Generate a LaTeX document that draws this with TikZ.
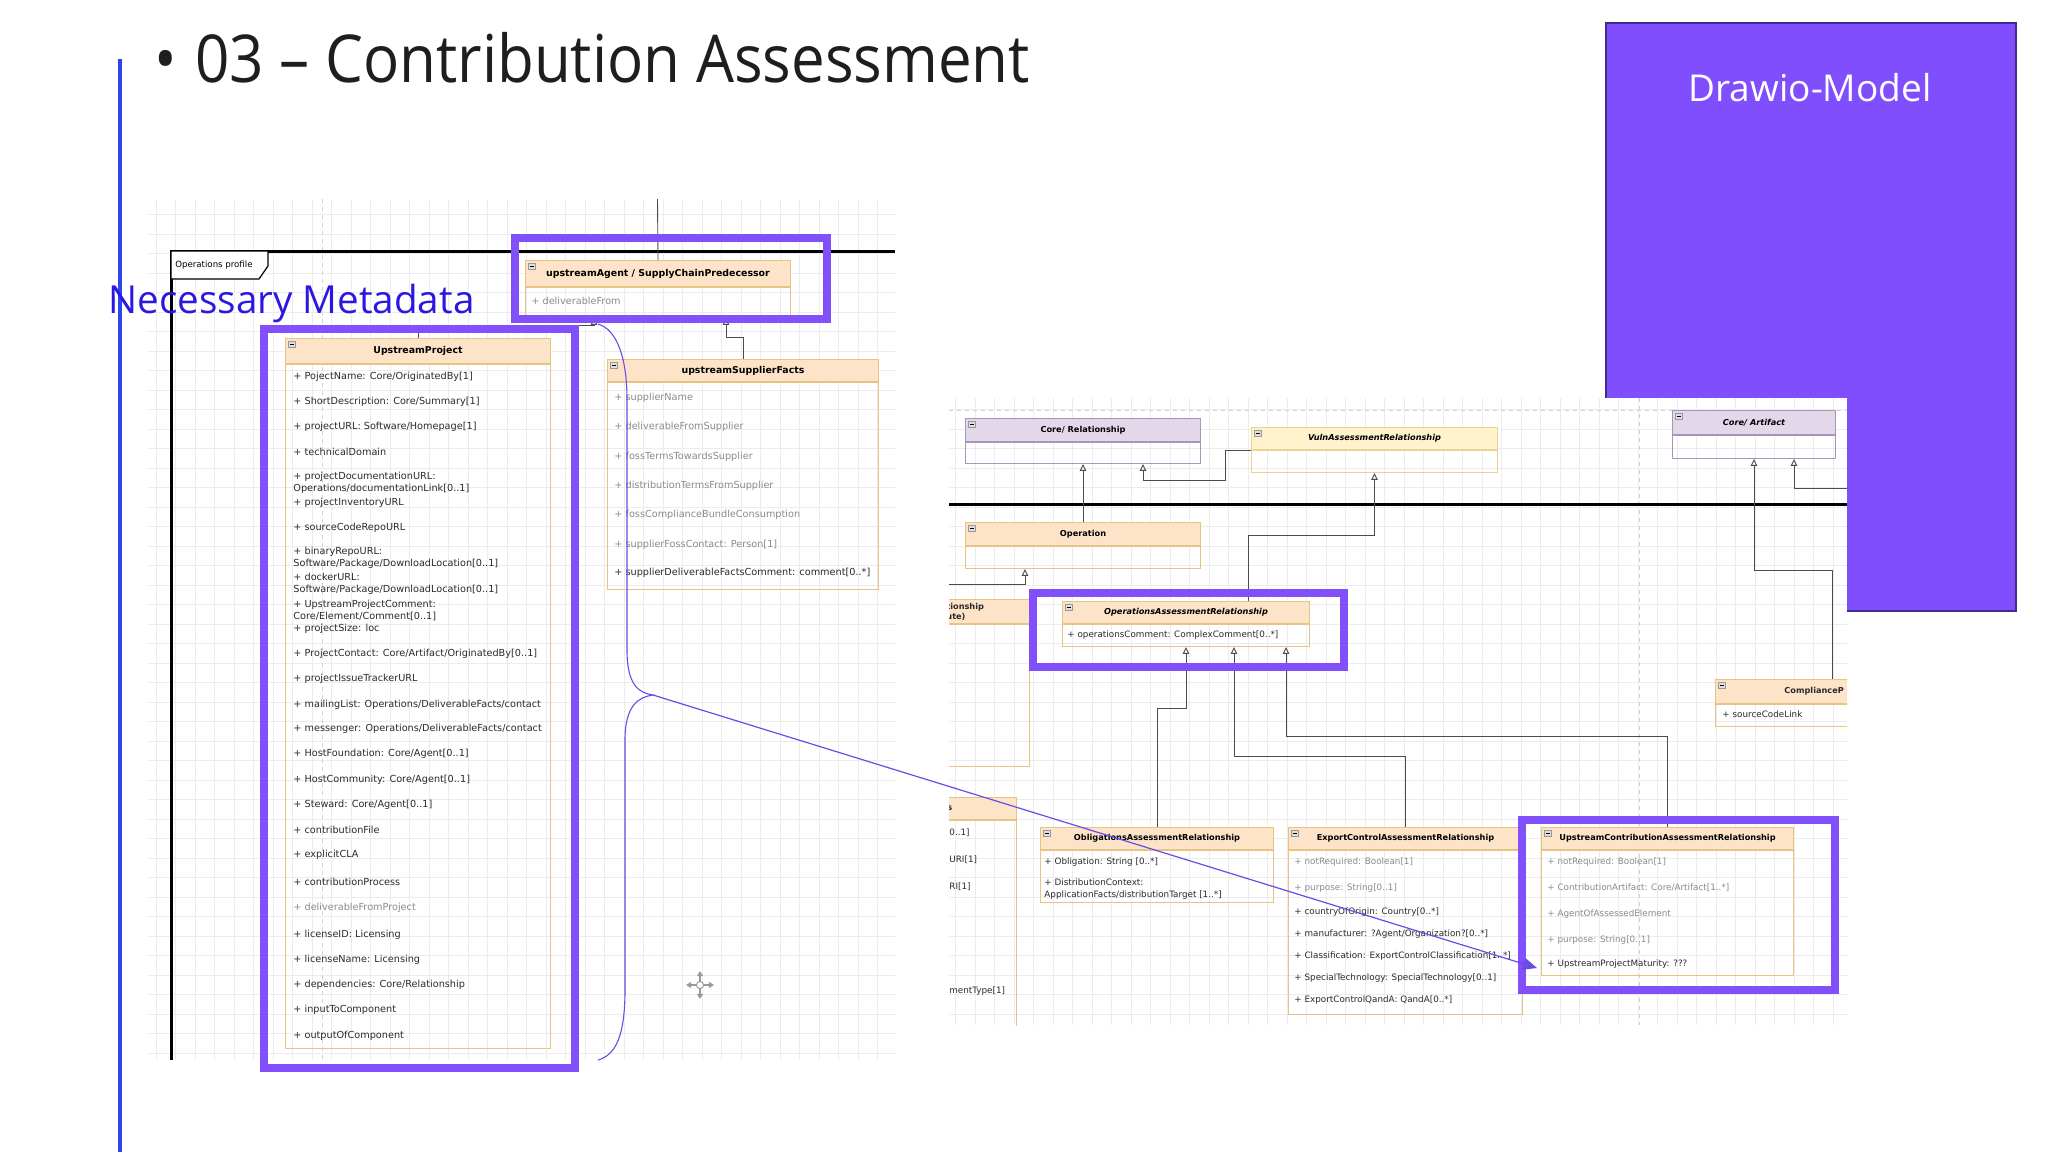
\documentclass[tikz,border=0pt]{standalone}
\usepackage{fontspec}
\setmainfont{Open Sans}
\newfontfamily\slidefont[FakeStretch=0.91]{Open Sans}
\newfontfamily\umlfont{DejaVu Sans}
\usetikzlibrary{arrows.meta}

\definecolor{titleInk}{HTML}{1E1E1E}
\definecolor{slideBlue}{HTML}{2F45EA}
\definecolor{metaBlue}{HTML}{2A17E2}
\definecolor{hiPurple}{HTML}{8150FB}
\definecolor{drawioFill}{HTML}{804EFD}
\definecolor{drawioLine}{HTML}{3F2C8C}
\definecolor{braceViolet}{HTML}{6A4CE6}
\definecolor{hdrOrange}{HTML}{FDE4C8}
\definecolor{lnOrange}{HTML}{E8C482}
\definecolor{hdrYellow}{HTML}{FFF2CC}
\definecolor{lnYellow}{HTML}{EAD48E}
\definecolor{hdrLav}{HTML}{E3D8EA}
\definecolor{lnLav}{HTML}{A995BA}
\definecolor{attrGray}{HTML}{8A8A8A}
\definecolor{attrDark}{HTML}{2A2A2A}
\definecolor{gridGray}{HTML}{ECECEC}

\newcommand{\umlHeadL}{\umlfont\bfseries\fontsize{4.7}{5.5}\selectfont}
\newcommand{\umlHeadR}{\umlfont\bfseries\fontsize{4.1}{5}\selectfont}
\newcommand{\umlAttrL}{\umlfont\fontsize{4.85}{6}\selectfont}
\newcommand{\umlAttrS}{\umlfont\fontsize{4.85}{6}\selectfont}
\newcommand{\umlAttrM}{\umlfont\fontsize{4.4}{6}\selectfont}
\newcommand{\umlAttrR}{\umlfont\fontsize{4.4}{5.6}\selectfont}

\newcommand{\umlclass}[7][O]{% kind, name, top left x,y, width, head h, body h, title (px)
  \node[head#1,minimum width=#4*0.5pt,minimum height=#5*0.5pt] (#2) at (#3) {#7};
  \node[body#1,minimum width=#4*0.5pt,minimum height=#6*0.5pt] (#2B) at (#2.south west) {};
  \draw[minusbox] ([shift={(1.8pt,-1.6pt)}]#2.north west) rectangle ++(3.4pt,-2.8pt);
  \draw[line width=.3pt] ([shift={(2.4pt,-3pt)}]#2.north west) -- ++(2.2pt,0);
}

\begin{document}
\begin{tikzpicture}[x=0.5pt,y=-0.5pt,
  headO/.style={draw=lnOrange,fill=hdrOrange,anchor=north west,inner sep=0pt,line width=.5pt,font=\umlHeadL,text=black},
  headY/.style={headO,draw=lnYellow,fill=hdrYellow},
  headL/.style={headO,draw=lnLav,fill=hdrLav},
  bodyO/.style={draw=lnOrange,anchor=north west,inner sep=0pt,line width=.5pt},
  bodyY/.style={bodyO,draw=lnYellow},
  bodyL/.style={bodyO,draw=lnLav},
  attr/.style={anchor=west,inner sep=0pt,align=left,font=\umlAttrL,text=attrDark},
  attrR/.style={attr,font=\umlAttrR},
  dim/.style={text=attrGray},
  ink/.style={text=attrDark},
  gen/.style={draw=black!70,line width=.45pt,-{Triangle[open,length=3.4pt,width=3.2pt]}},
  hilite/.style={draw=hiPurple,line width=3.6pt},
  minusbox/.style={draw=gray!80,fill=gray!25,line width=.25pt},
  gridl/.style={draw=gridGray,line width=.35pt},
  pagebrk/.style={draw=gray!35,dash pattern=on 2pt off 2pt,line width=.4pt}]

\useasboundingbox (0,0) rectangle (2048,1152);
\fill[white] (0,0) rectangle (2048,1152);

% slide frame and title
\draw[slideBlue,line width=1.6pt] (120,59) -- (120,1152);
\node[anchor=base,inner sep=0pt,font=\slidefont\fontsize{33}{38}\selectfont,text=titleInk] (bullet) at (166,82) {•};
\node[anchor=base west,inner sep=0pt,font=\slidefont\fontsize{33}{38}\selectfont,text=titleInk] (title) at (195,82) {03 – Contribution Assessment};

% left screenshot: operations profile
\draw[gridl,step=9.75pt] (148,199) grid (895,1060);
\draw[pagebrk] (322,199) -- (322,1060);
\draw[line width=1.5pt] (171,1060) -- (171,251) -- (895,251);
\draw[fill=white,line width=.6pt] (171,251) -- (268,251) -- (268,266) -- (259,279) -- (171,279) -- cycle;
\node[anchor=west,inner sep=0pt,font=\umlfont\fontsize{4.3}{5}\selectfont] (profTab) at (175,265) {Operations profile};

\umlclass{agent}{525,260}{265}{26}{30}{upstreamAgent / SupplyChainPredecessor}
\node[attr,dim] (agentA1) at (531,301) {+ deliverableFrom};

\umlclass{upProj}{285,338}{265}{25}{684}{UpstreamProject}
\foreach \y/\t [count=\i] in {
  377/{+ PojectName: Core/OriginatedBy[1]},
  402/{+ ShortDescription: Core/Summary[1]},
  427/{+ projectURL: Software/Homepage[1]},
  452/{+ technicalDomain},
  483/{+ projectDocumentationURL:\\Operations/documentationLink[0..1]},
  503/{+ projectInventoryURL},
  528/{+ sourceCodeRepoURL},
  558/{+ binaryRepoURL:\\Software/Package/DownloadLocation[0..1]},
  584/{+ dockerURL:\\Software/Package/DownloadLocation[0..1]},
  610/{+ UpstreamProjectComment:\\Core/Element/Comment[0..1]},
  629/{+ projectSize: loc},
  654/{+ ProjectContact: Core/Artifact/OriginatedBy[0..1]},
  679/{+ projectIssueTrackerURL},
  705/{+ mailingList: Operations/DeliverableFacts/contact},
  729/{+ messenger: Operations/DeliverableFacts/contact},
  754/{+ HostFoundation: Core/Agent[0..1]},
  780/{+ HostCommunity: Core/Agent[0..1]},
  805/{+ Steward: Core/Agent[0..1]},
  830/{+ contributionFile},
  855/{+ explicitCLA},
  882/{+ contributionProcess},
  935/{+ licenseID: Licensing},
  960/{+ licenseName: Licensing},
  985/{+ dependencies: Core/Relationship},
  1010/{+ inputToComponent},
  1036/{+ outputOfComponent}}
  \node[attr] (upProjA\i) at (293,\y) {\t};
\node[attr,dim] (upProjDel) at (293,908) {+ deliverableFromProject};

\umlclass{supFacts}{607,359}{271}{22}{207}{upstreamSupplierFacts}
\foreach \y/\s/\t [count=\i] in {
  398/dim/{+ supplierName},
  427/dim/{+ deliverableFromSupplier},
  457/dim/{+ fossTermsTowardsSupplier},
  486/dim/{+ distributionTermsFromSupplier},
  515/dim/{+ fossComplianceBundleConsumption},
  545/dim/{+ supplierFossContact: Person[1]},
  573/ink/{+ supplierDeliverableFactsComment: comment[0..*]}}
  \node[attr,font=\umlAttrS,\s] (supFactsA\i) at (614,\y) {\t};

\coordinate (agentIn) at (657.5,199);
\draw[draw=black!70,line width=.45pt] (agentIn) -- (agent.north);
\draw[gen] (upProj.north) -- ++(0,-13) -| ([xshift=-32pt]agentB.south);
\draw[gen] (supFacts.north) -- ++(0,-22) -| ([xshift=34pt]agentB.south);

\draw[hilite] (515,238) rectangle (827,319);
\draw[hilite] (264,329) rectangle (575,1068);

\node[anchor=west,inner sep=0pt,font=\fontsize{19.3}{22}\selectfont,text=metaBlue] (metaLbl) at (108,303) {Necessary Metadata};

% Drawio-Model box
\node[draw=drawioLine,fill=drawioFill,line width=.8pt,anchor=north west,inner sep=0pt,
  minimum width=410*0.5pt,minimum height=588*0.5pt] (drawio) at (1605,22) {};
\node[text=white,font=\fontsize{18.5}{22}\selectfont] (drawioLbl) at (1810,88) {Drawio-Model};

% right screenshot: assessment relationships
\fill[white] (949,398) rectangle (1847,1025);
\begin{scope}
\clip (949,398) rectangle (1847,1025);
\draw[gridl,step=9.75pt] (949,398) grid (1847,1025);
\draw[pagebrk] (1639,398) -- (1639,1025);
\draw[pagebrk] (949,410) -- (1847,410);
\draw[line width=1.5pt] (949,504) -- (1847,504);

\umlclass[L]{coreRel}{965,418}{235}{23}{21}{\umlHeadR Core/ Relationship}
\umlclass[Y]{vuln}{1251,427}{246}{22}{22}{\umlHeadR\itshape VulnAssessmentRelationship}
\umlclass[L]{coreArt}{1672,410}{163}{24}{23}{\umlHeadR\itshape Core/ Artifact}
\umlclass{oper}{965,522}{235}{23}{22}{\umlHeadR Operation}
\umlclass{oar}{1062,601}{247}{22}{22}{\umlHeadR\itshape OperationsAssessmentRelationship}
\umlclass{partA}{880,599}{149}{24}{142}{}
\umlclass{partB}{900,797}{116}{22}{243}{}
\umlclass{compl}{1715,679}{200}{24}{22}{}
\umlclass{oblig}{1040,827}{233}{22}{52}{\umlHeadR ObligationsAssessmentRelationship}
\umlclass{expCtl}{1288,827}{234}{22}{164}{\umlHeadR ExportControlAssessmentRelationship}
\umlclass{ucar}{1541,827}{252}{22}{125}{\umlHeadR UpstreamContributionAssessmentRelationship}

\node[attr,font=\umlAttrM] (oarA1) at (1067,635) {+ operationsComment: ComplexComment[0..*]};
\node[attr,font=\umlHeadR,align=left] (partAT) at (946,612) {tionship\\ute)};
\node[attr,font=\umlHeadR] (partBT) at (947,808) {s};
\foreach \y/\t [count=\i] in {833/{0..1]},860/{URI[1]},887/{RI[1]},991/{mentType[1]}}
  \node[attrR] (partBA\i) at (949,\y) {\t};
\node[attr,font=\umlHeadR] (complT) at (1784,691) {ComplianceP};
\node[attrR] (complA1) at (1722,714) {+ sourceCodeLink};

\node[attrR] (obligA1) at (1044,862) {+ Obligation: String [0..*]};
\node[attrR] (obligA2) at (1044,889) {+ DistributionContext:\\ApplicationFacts/distributionTarget [1..*]};

\foreach \y/\s/\t [count=\i] in {
  862/dim/{+ notRequired: Boolean[1]},
  888/dim/{+ purpose: String[0..1]},
  912/ink/{+ countryOfOrigin: Country[0..*]},
  934/ink/{+ manufacturer: ?Agent/Organization?[0..*]},
  956/ink/{+ Classification: ExportControlClassification[1..*]},
  978/ink/{+ SpecialTechnology: SpecialTechnology[0..1]},
  1000/ink/{+ ExportControlQandA: QandA[0..*]}}
  \node[attrR,\s] (expCtlA\i) at (1294,\y) {\t};

\foreach \y/\s/\t [count=\i] in {
  862/dim/{+ notRequired: Boolean[1]},
  888/dim/{+ ContributionArtifact: Core/Artifact[1..*]},
  914/dim/{+ AgentOfAssessedElement},
  940/dim/{+ purpose: String[0..1]},
  964/ink/{+ UpstreamProjectMaturity: ???}}
  \node[attrR,\s] (ucarA\i) at (1547,\y) {\t};

% generalisations
\draw[gen] (oper.north) -- (coreRelB.south);
\draw[gen] (vulnB.north west) -- ++(-26,0) -- ++(0,30) -| ([xshift=30pt]coreRelB.south);
\draw[gen] ([xshift=31pt]oar.north) -- ++(0,-66) -| (vulnB.south);
\coordinate (operIn) at (949,584);
\draw[gen] (operIn) -| ([xshift=-29pt]operB.south);
\draw[gen] (oblig.north) -- ++(0,-119) -| (oarB.south);
\draw[gen] (expCtl.north) -- ++(0,-71) -| ([xshift=24pt]oarB.south);
\draw[gen] (ucar.north) -- ++(0,-91) -| ([xshift=50pt]oarB.south);
\draw[gen] ([xshift=58.5pt]compl.north west) -- ++(0,-109) -| (coreArtB.south);
\coordinate (artIn) at (1847,488);
\draw[gen] (artIn) -| ([xshift=20pt]coreArtB.south);

\draw[hilite] (1033,593) rectangle (1344,667);
\draw[hilite] (1522,820) rectangle (1835,990);
\end{scope}

% brace over the metadata and pointer to the new relationship
\coordinate (braceTip) at (653,695);
\draw[braceViolet,line width=.55pt] (598,324) .. controls (618,330) and (627,360) .. (627,400)
  -- (627,650) .. controls (627,684) and (638,693) .. (braceTip)
  .. controls (638,697) and (625,706) .. (625,740)
  -- (625,990) .. controls (625,1035) and (616,1055) .. (598,1060);
\draw[braceViolet,line width=.6pt,-{Triangle[length=7pt,width=6pt]}] (braceTip) -- ([xshift=-2pt,yshift=4pt]ucarB.south west);

% move cursor
\coordinate (moveIcon) at (700,985);
\foreach \a in {0,90,180,270}
  \draw[gray!80,line width=.7pt,-{Triangle[length=2.6pt,width=3pt]}] (moveIcon) -- ++(\a:7pt);
\draw[gray!80,fill=white,line width=.5pt] (moveIcon) circle (1.8pt);

\end{tikzpicture}
\end{document}
